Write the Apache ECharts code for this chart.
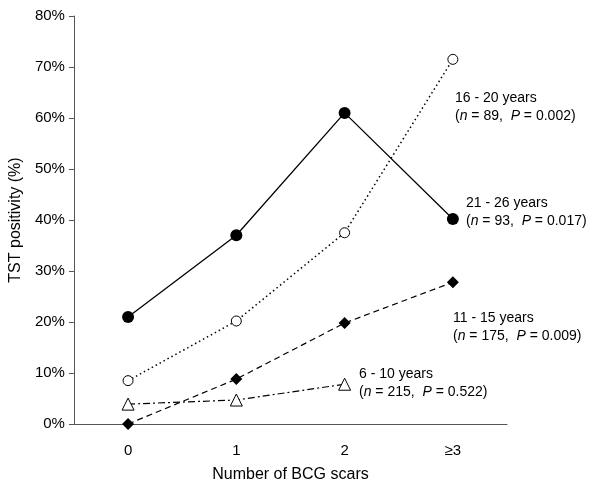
<!DOCTYPE html>
<html><head><meta charset="utf-8">
<script src="https://cdn.jsdelivr.net/npm/echarts@6/dist/echarts.min.js"></script>
<style>html,body{margin:0;padding:0;background:#fff}#c{width:600px;height:491px}</style>
</head><body><div id="c"></div>
<script>
var categories = ['0', '1', '2', '≥3'];
var yTicks = [0, 10, 20, 30, 40, 50, 60, 70, 80];
var age21_26 = [21, 37, 61, 40.2];
var age16_20 = [8.5, 20.2, 37.5, 71.5];
var age11_15 = [0, 8.8, 19.8, 27.8];
var age6_10 = [3.9, 4.7, 7.8, null];
var seriesNames = ['21 - 26 years', '16 - 20 years', '11 - 15 years', '6 - 10 years'];
var seriesN = ['93', '89', '175', '215'];
var seriesP = ['0.017', '0.002', '0.009', '0.522'];

var FONT = 'Liberation Sans, Arial, sans-serif';
var chart = echarts.init(document.getElementById('c'));

function lbl(i, x, y) {
  return {
    type: 'text', left: x, top: y, z: 10,
    style: {
      text: '{a|' + seriesNames[i] + '}\n{a|(}{i|n}{a| = ' + seriesN[i] + ',  }{i|P}{a| = ' + seriesP[i] + ')}',
      rich: {
        a: {fontSize: 14, fontFamily: FONT, fill: '#000', lineHeight: 18},
        i: {fontSize: 14, fontFamily: FONT, fontStyle: 'italic', fill: '#000', lineHeight: 18}
      },
      fill: '#000'
    }
  };
}

var option = {
  animation: false,
  backgroundColor: '#fff',
  grid: {left: 73, right: 93, top: 16, bottom: 67},
  xAxis: {
    type: 'category', data: categories, boundaryGap: true,
    name: 'Number of BCG scars', nameLocation: 'middle', nameGap: 43,
    nameTextStyle: {fontSize: 16, fontFamily: FONT, color: '#000'},
    axisLine: {lineStyle: {color: '#555', width: 1}},
    axisTick: {inside: true, length: 5, lineStyle: {color: '#555'}},
    axisLabel: {fontSize: 15, fontFamily: FONT, color: '#000', margin: 19}
  },
  yAxis: {
    type: 'value', min: 0, max: 80, interval: 10,
    name: 'TST positivity (%)', nameLocation: 'middle', nameGap: 44,
    nameTextStyle: {fontSize: 16, fontFamily: FONT, color: '#000'},
    axisLine: {show: true, lineStyle: {color: '#555', width: 1}},
    axisTick: {show: true, length: 5, lineStyle: {color: '#555'}},
    splitLine: {show: false},
    axisLabel: {fontSize: 15, fontFamily: FONT, color: '#000', margin: 9,
      formatter: function (v) { return yTicks.indexOf(v) >= 0 ? v + '%' : ''; }}
  },
  series: [
    {name: seriesNames[0], type: 'line', data: age21_26, symbol: 'circle', symbolSize: 12,
     itemStyle: {color: '#000'}, lineStyle: {color: '#000', width: 1.3, type: 'solid'}, z: 4},
    {name: seriesNames[1], type: 'line', data: age16_20, symbol: 'circle', symbolSize: 10,
     itemStyle: {color: '#fff', borderColor: '#000', borderWidth: 1}, lineStyle: {color: '#000', width: 1.5, type: [1.5, 3]}, z: 3},
    {name: seriesNames[2], type: 'line', data: age11_15, symbol: 'diamond', symbolSize: 12,
     itemStyle: {color: '#000'}, lineStyle: {color: '#000', width: 1.2, type: [6, 4]}, z: 3},
    {name: seriesNames[3], type: 'line', data: age6_10, symbol: 'triangle', symbolSize: 12,
     itemStyle: {color: '#fff', borderColor: '#000', borderWidth: 1}, lineStyle: {color: '#000', width: 1.2, type: [7, 3, 2, 3]}, z: 2}
  ],
  graphic: [
    lbl(1, 455, 91),
    lbl(0, 466, 196),
    lbl(2, 453, 311),
    lbl(3, 359, 367)
  ]
};
chart.setOption(option);
</script></body></html>
